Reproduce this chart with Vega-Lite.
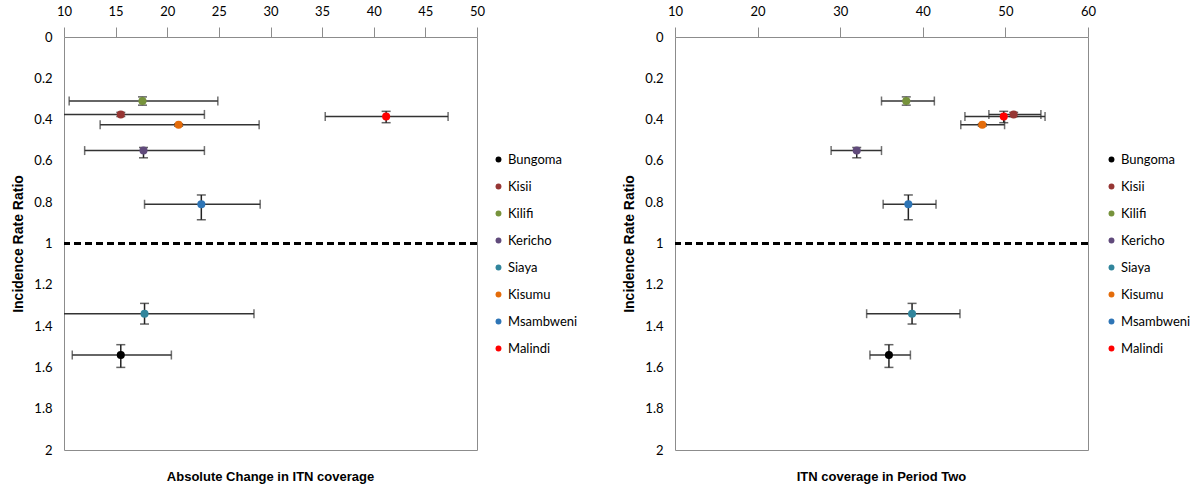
{
  "$schema": "https://vega.github.io/schema/vega-lite/v6.json",
  "background": "white",
  "padding": {"left": 11, "top": 4, "right": 5, "bottom": 5},
  "config": {
    "view": {"stroke": "#8c8c8c", "strokeWidth": 1},
    "axis": {"labelFont": "Lato", "labelFontSize": 13, "labelColor": "#000", "titleFont": "Liberation Sans", "titleFontSize": 14, "titleFontWeight": "bold", "titleColor": "#000", "grid": false, "domain": false, "labelOverlap": false, "labelFlush": false},
    "legend": {"labelFont": "Lato", "labelFontSize": 13, "labelColor": "#000", "symbolType": "circle", "symbolSize": 35, "symbolStrokeWidth": 0, "rowPadding": 13, "labelOffset": 3}
  },
  "datasets": {
    "d": [
      {"district": "Bungoma", "irr": 1.54, "irr_lo": 1.49, "irr_hi": 1.6, "abs": 15.5, "abs_lo": 10.8, "abs_hi": 20.4, "p2": 35.9, "p2_lo": 33.6, "p2_hi": 38.5},
      {"district": "Kisii", "irr": 0.375, "irr_lo": 0.365, "irr_hi": 0.385, "abs": 15.5, "abs_lo": 7.4, "abs_hi": 23.6, "p2": 51.0, "p2_lo": 48.0, "p2_hi": 54.3},
      {"district": "Kilifi", "irr": 0.31, "irr_lo": 0.29, "irr_hi": 0.33, "abs": 17.6, "abs_lo": 10.5, "abs_hi": 24.9, "p2": 38.0, "p2_lo": 35.0, "p2_hi": 41.4},
      {"district": "Kericho", "irr": 0.55, "irr_lo": 0.535, "irr_hi": 0.585, "abs": 17.7, "abs_lo": 12.0, "abs_hi": 23.6, "p2": 32.0, "p2_lo": 28.9, "p2_hi": 35.0},
      {"district": "Siaya", "irr": 1.34, "irr_lo": 1.29, "irr_hi": 1.39, "abs": 17.8, "abs_lo": 7.2, "abs_hi": 28.4, "p2": 38.7, "p2_lo": 33.2, "p2_hi": 44.5},
      {"district": "Kisumu", "irr": 0.425, "irr_lo": 0.42, "irr_hi": 0.432, "abs": 21.1, "abs_lo": 13.5, "abs_hi": 28.9, "p2": 47.2, "p2_lo": 44.6, "p2_hi": 49.9},
      {"district": "Msambweni", "irr": 0.81, "irr_lo": 0.765, "irr_hi": 0.885, "abs": 23.3, "abs_lo": 17.8, "abs_hi": 29.0, "p2": 38.25, "p2_lo": 35.2, "p2_hi": 41.6},
      {"district": "Malindi", "irr": 0.385, "irr_lo": 0.36, "irr_hi": 0.415, "abs": 41.2, "abs_lo": 35.3, "abs_hi": 47.2, "p2": 49.8, "p2_lo": 45.1, "p2_hi": 54.8}
    ]
  },
  "spacing": 43,
  "resolve": {"scale": {"color": "independent"}, "legend": {"color": "independent"}},
  "hconcat": [
    {
      "width": 413,
      "height": 413,
      "title": {"text": "Absolute Change in ITN coverage", "orient": "bottom", "font": "Liberation Sans", "fontSize": 13, "fontWeight": "bold", "color": "#000", "offset": 14},
      "data": {"name": "d"},
      "encoding": {
        "y": {"field": "irr", "type": "quantitative", "scale": {"domain": [0, 2], "reverse": true, "nice": false, "zero": false}, "axis": {"title": "Incidence Rate Ratio", "values": [0, 0.2, 0.4, 0.6, 0.8, 1, 1.2, 1.4, 1.6, 1.8, 2], "format": ".1~f", "ticks": false, "labelPadding": 12, "titlePadding": 8}}
      },
      "layer": [
        {
          "mark": {"type": "rule", "color": "#000", "strokeWidth": 2.5, "strokeDash": [7, 4]},
          "encoding": {"y": {"datum": 1, "type": "quantitative"}}
        },
        {
          "mark": {"type": "rule", "color": "#333", "strokeWidth": 1.5, "clip": true},
          "encoding": {
            "x": {"field": "abs_lo", "type": "quantitative", "scale": {"domain": [10, 50], "nice": false, "zero": false}, "axis": {"orient": "top", "title": null, "values": [10, 15, 20, 25, 30, 35, 40, 45, 50], "tickSize": 10, "tickColor": "#8c8c8c", "labelPadding": 9}},
            "x2": {"field": "abs_hi"}
          }
        },
        {
          "mark": {"type": "tick", "orient": "vertical", "size": 9, "thickness": 1.5, "color": "#333", "clip": true},
          "encoding": {"x": {"field": "abs_lo", "type": "quantitative", "title": null}}
        },
        {
          "mark": {"type": "tick", "orient": "vertical", "size": 9, "thickness": 1.5, "color": "#333", "clip": true},
          "encoding": {"x": {"field": "abs_hi", "type": "quantitative", "title": null}}
        },
        {
          "mark": {"type": "rule", "color": "#222", "strokeWidth": 1.5},
          "encoding": {
            "x": {"field": "abs", "type": "quantitative", "title": null},
            "y": {"field": "irr_lo", "type": "quantitative"},
            "y2": {"field": "irr_hi"}
          }
        },
        {
          "mark": {"type": "tick", "orient": "horizontal", "size": 9, "thickness": 1.5, "color": "#222"},
          "encoding": {"x": {"field": "abs", "type": "quantitative", "title": null}, "y": {"field": "irr_lo", "type": "quantitative"}}
        },
        {
          "mark": {"type": "tick", "orient": "horizontal", "size": 9, "thickness": 1.5, "color": "#222"},
          "encoding": {"x": {"field": "abs", "type": "quantitative", "title": null}, "y": {"field": "irr_hi", "type": "quantitative"}}
        },
        {
          "mark": {"type": "circle", "size": 65, "opacity": 1},
          "encoding": {
            "x": {"field": "abs", "type": "quantitative", "title": null},
            "color": {"field": "district", "type": "nominal", "scale": {"domain": ["Bungoma", "Kisii", "Kilifi", "Kericho", "Siaya", "Kisumu", "Msambweni", "Malindi"], "range": ["#000000", "#963634", "#77933C", "#604A7B", "#31859C", "#E46C0A", "#2E75B6", "#FF0000"]}, "legend": {"title": null, "orient": "none", "legendX": 428, "legendY": 116}}
          }
        }
      ]
    },
    {
      "width": 413,
      "height": 413,
      "title": {"text": "ITN coverage in Period Two", "orient": "bottom", "font": "Liberation Sans", "fontSize": 13, "fontWeight": "bold", "color": "#000", "offset": 14},
      "data": {"name": "d"},
      "encoding": {
        "y": {"field": "irr", "type": "quantitative", "scale": {"domain": [0, 2], "reverse": true, "nice": false, "zero": false}, "axis": {"title": "Incidence Rate Ratio", "values": [0, 0.2, 0.4, 0.6, 0.8, 1, 1.2, 1.4, 1.6, 1.8, 2], "format": ".1~f", "ticks": false, "labelPadding": 12, "titlePadding": 8}}
      },
      "layer": [
        {
          "mark": {"type": "rule", "color": "#000", "strokeWidth": 2.5, "strokeDash": [7, 4]},
          "encoding": {"y": {"datum": 1, "type": "quantitative"}}
        },
        {
          "mark": {"type": "rule", "color": "#333", "strokeWidth": 1.5, "clip": true},
          "encoding": {
            "x": {"field": "p2_lo", "type": "quantitative", "scale": {"domain": [10, 60], "nice": false, "zero": false}, "axis": {"orient": "top", "title": null, "values": [10, 20, 30, 40, 50, 60], "tickSize": 10, "tickColor": "#8c8c8c", "labelPadding": 9}},
            "x2": {"field": "p2_hi"}
          }
        },
        {
          "mark": {"type": "tick", "orient": "vertical", "size": 9, "thickness": 1.5, "color": "#333", "clip": true},
          "encoding": {"x": {"field": "p2_lo", "type": "quantitative", "title": null}}
        },
        {
          "mark": {"type": "tick", "orient": "vertical", "size": 9, "thickness": 1.5, "color": "#333", "clip": true},
          "encoding": {"x": {"field": "p2_hi", "type": "quantitative", "title": null}}
        },
        {
          "mark": {"type": "rule", "color": "#222", "strokeWidth": 1.5},
          "encoding": {
            "x": {"field": "p2", "type": "quantitative", "title": null},
            "y": {"field": "irr_lo", "type": "quantitative"},
            "y2": {"field": "irr_hi"}
          }
        },
        {
          "mark": {"type": "tick", "orient": "horizontal", "size": 9, "thickness": 1.5, "color": "#222"},
          "encoding": {"x": {"field": "p2", "type": "quantitative", "title": null}, "y": {"field": "irr_lo", "type": "quantitative"}}
        },
        {
          "mark": {"type": "tick", "orient": "horizontal", "size": 9, "thickness": 1.5, "color": "#222"},
          "encoding": {"x": {"field": "p2", "type": "quantitative", "title": null}, "y": {"field": "irr_hi", "type": "quantitative"}}
        },
        {
          "mark": {"type": "circle", "size": 65, "opacity": 1},
          "encoding": {
            "x": {"field": "p2", "type": "quantitative", "title": null},
            "color": {"field": "district", "type": "nominal", "scale": {"domain": ["Bungoma", "Kisii", "Kilifi", "Kericho", "Siaya", "Kisumu", "Msambweni", "Malindi"], "range": ["#000000", "#963634", "#77933C", "#604A7B", "#31859C", "#E46C0A", "#2E75B6", "#FF0000"]}, "legend": {"title": null, "orient": "none", "legendX": 430, "legendY": 116}}
          }
        }
      ]
    }
  ]
}
